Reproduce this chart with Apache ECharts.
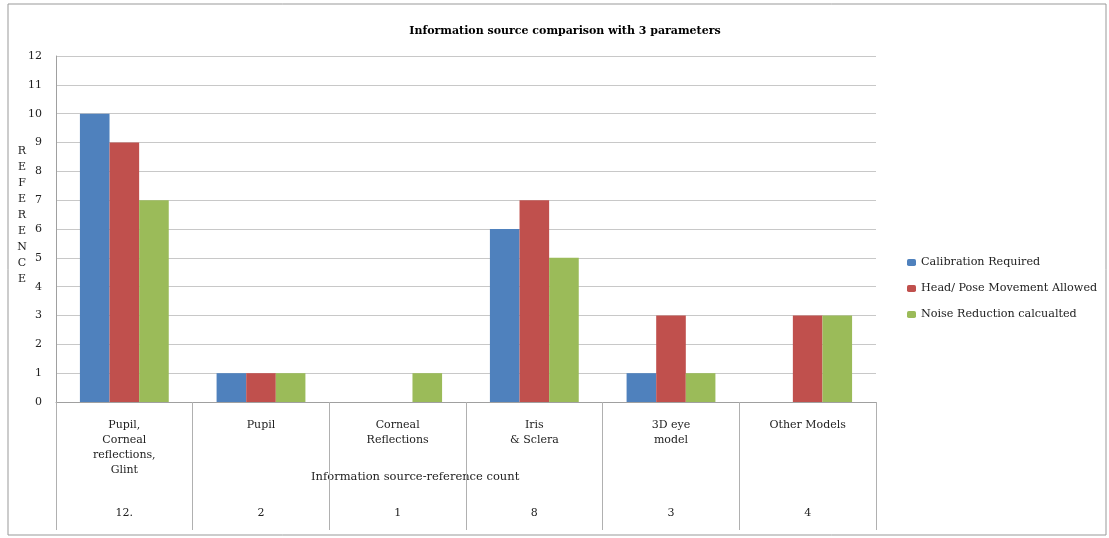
<!DOCTYPE html>
<html><head><meta charset="utf-8">
<script src="https://cdn.jsdelivr.net/npm/echarts@6/dist/echarts.min.js"></script>
<style>html,body{margin:0;padding:0;background:#fff}#c{width:1109px;height:538px}</style>
</head><body><div id="c"></div>
<script>
const categories = ["Pupil,\nCorneal\nreflections,\nGlint", "Pupil", "Corneal\nReflections", "Iris\n& Sclera", "3D eye\nmodel", "Other Models"];
const referenceCounts = ["12.", "2", "1", "8", "3", "4"];
const seriesNames = ["Calibration Required", "Head/ Pose Movement Allowed", "Noise Reduction calcualted"];
const yAxisTitle = "R\nE\nF\nE\nR\nE\nN\nC\nE";
const xAxisTitle = "Information source-reference count";
const calibration = [10, 1, 0, 6, 1, 0];
const headPose = [9, 1, 0, 7, 3, 3];
const noise = [7, 1, 1, 5, 1, 3];
const colors = ["#4F81BD", "#C0504D", "#9BBB59"];
const F = "DejaVu Serif";
const chart = echarts.init(document.getElementById('c'));
chart.setOption({
  animation: false,
  title: {text: "Information source comparison with 3 parameters", left: 560, top: 21, textAlign: 'center',
    textStyle: {fontFamily: F, fontSize: 11, fontWeight: 'bold', color: '#000'}},
  legend: {orient: 'vertical', left: 902, top: 252, itemGap: 15, itemWidth: 9, itemHeight: 7,
    textStyle: {fontFamily: F, fontSize: 11.2, color: '#222'}, data: seriesNames},
  grid: {left: 56, right: 233, top: 56, bottom: 136},
  xAxis: [{
    type: 'category', data: categories,
    axisLine: {lineStyle: {color: '#a0a0a0'}},
    axisTick: {show: true, length: 128, interval: 0, lineStyle: {color: '#b0b0b0'}},
    axisLabel: {interval: 0, margin: 16, fontFamily: F, fontSize: 11, color: '#222', lineHeight: 15, verticalAlign: 'top'}
  }, {
    type: 'category', data: referenceCounts, position: 'bottom', offset: 106,
    axisLine: {show: false}, axisTick: {show: false},
    axisLabel: {interval: 0, margin: 0, fontFamily: F, fontSize: 11, color: '#222'}
  }],
  yAxis: {
    type: 'value', min: 0, max: 12, interval: 1,
    axisLine: {show: true, lineStyle: {color: '#a0a0a0'}},
    axisTick: {show: false},
    splitLine: {lineStyle: {color: '#c8c8c8'}},
    axisLabel: {margin: 14, fontFamily: F, fontSize: 11, color: '#222'}
  },
  graphic: [
    {type: 'rect', shape: {x: 8, y: 4, width: 1098, height: 531}, style: {fill: 'none', stroke: '#999', lineWidth: 1}, silent: true},
    {type: 'text', x: 22, y: 143, style: {text: yAxisTitle, fontFamily: F, fontSize: 11, lineHeight: 16, fill: '#222', align: 'center'}},
    {type: 'text', left: 311, top: 471, style: {text: xAxisTitle, fontFamily: F, fontSize: 11.5, fill: '#222'}}
  ],
  series: [
    {name: seriesNames[0], type: 'bar', data: calibration, itemStyle: {color: colors[0]}, barGap: '0%', barCategoryGap: '35%'},
    {name: seriesNames[1], type: 'bar', data: headPose, itemStyle: {color: colors[1]}, barGap: '0%', barCategoryGap: '35%'},
    {name: seriesNames[2], type: 'bar', data: noise, itemStyle: {color: colors[2]}, barGap: '0%', barCategoryGap: '35%'}
  ]
});
</script></body></html>
